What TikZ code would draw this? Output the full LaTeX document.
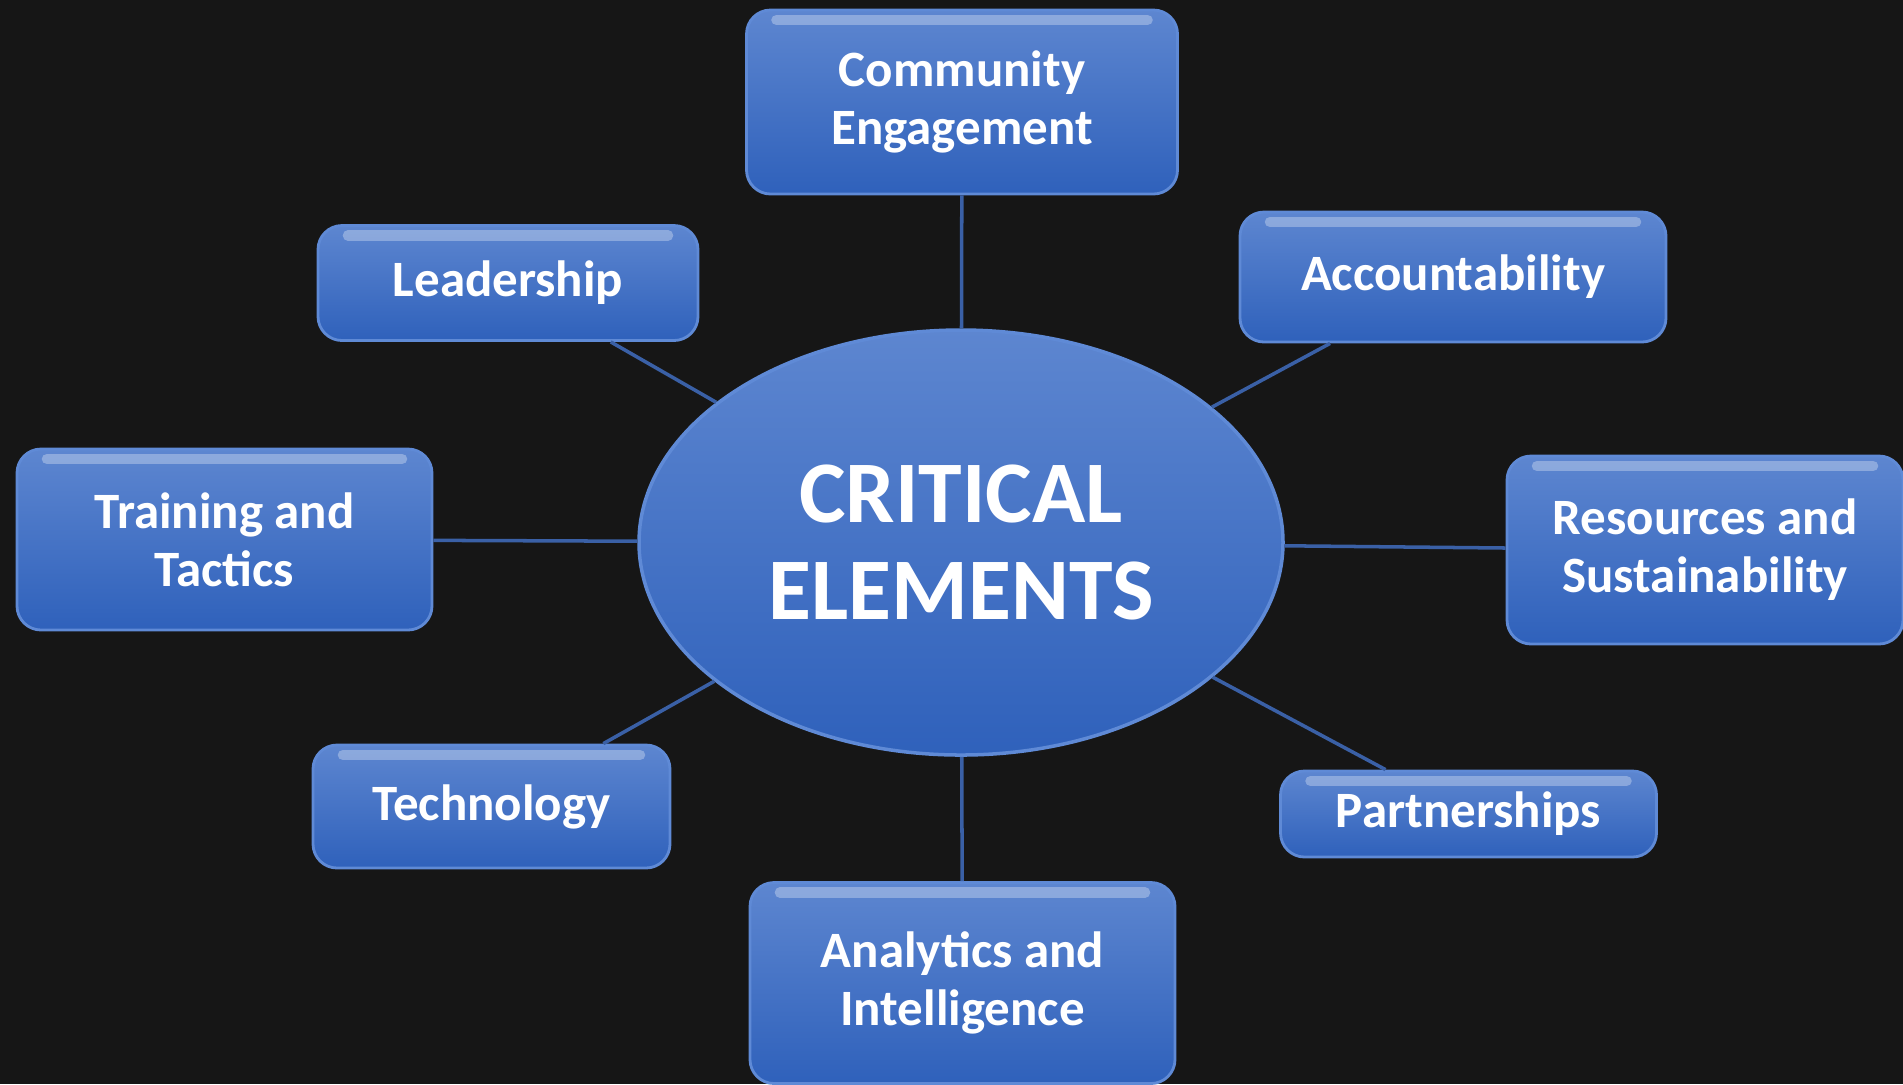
\documentclass[tikz,border=0pt]{standalone}
\usepackage{fontspec}
\setmainfont{Carlito}
\usetikzlibrary{shapes.geometric}

\definecolor{bgdark}{HTML}{161616}
\definecolor{boxtop}{HTML}{5D86D0}
\definecolor{boxbottom}{HTML}{2F61BB}
\definecolor{boxrim}{HTML}{5F8AD6}
\definecolor{linkblue}{HTML}{3A60A6}

\begin{document}
\begin{tikzpicture}
[thick,
 elem node/.style={rectangle,rounded corners=0.24cm,draw=boxrim,line width=0.8pt,
   top color=boxtop,bottom color=boxbottom,text=white,align=center,
   font=\fontsize{14.5}{16.5}\selectfont\bfseries,inner sep=0pt,
   path picture={\draw[white,opacity=0.3,line width=3pt,line cap=round]
     ([xshift=0.3cm,yshift=-0.1cm]path picture bounding box.north west) --
     ([xshift=-0.3cm,yshift=-0.1cm]path picture bounding box.north east);}},
 core node/.style={ellipse,draw=boxrim,line width=1pt,top color=boxtop,
   bottom color=boxbottom,text=white,align=center,inner sep=0pt,
   font=\fontsize{25}{27.5}\selectfont\bfseries},
 link/.style={draw=linkblue,line width=1pt}]

  \fill[bgdark] (0,0) rectangle (19.03,-10.84);
  \useasboundingbox (0,0) rectangle (19.03,-10.84);

  \node[core node,minimum width=6.44cm,minimum height=4.25cm] (crit) at (9.61,-5.425) {CRITICAL\\ELEMENTS};

  \node[elem node,minimum width=4.31cm,minimum height=1.84cm] (comm) at (9.62,-1.02) {Community\\Engagement};
  \node[elem node,minimum width=3.80cm,minimum height=1.15cm] (lead) at (5.08,-2.83) {Leadership};
  \node[elem node,minimum width=4.26cm,minimum height=1.30cm] (acct) at (14.53,-2.77) {Accountability};
  \node[elem node,minimum width=4.15cm,minimum height=1.81cm] (train) at (2.245,-5.395) {Training and\\Tactics};
  \node[elem node,minimum width=3.96cm,minimum height=1.88cm] (res) at (17.05,-5.50) {Resources and\\Sustainability};
  \node[elem node,minimum width=3.57cm,minimum height=1.23cm] (tech) at (4.915,-8.065) {Technology};
  \node[elem node,minimum width=3.76cm,minimum height=0.86cm] (part) at (14.685,-8.14) {Partnerships};
  \node[elem node,minimum width=4.25cm,minimum height=2.01cm] (anal) at (9.625,-9.83) {Analytics and\\Intelligence};

  % lines to the centre
  \path[link]
    (crit) edge (comm)
           edge (lead)
           edge (acct)
           edge (train)
           edge (res)
           edge (tech)
           edge (part)
           edge (anal);
\end{tikzpicture}
\end{document}
